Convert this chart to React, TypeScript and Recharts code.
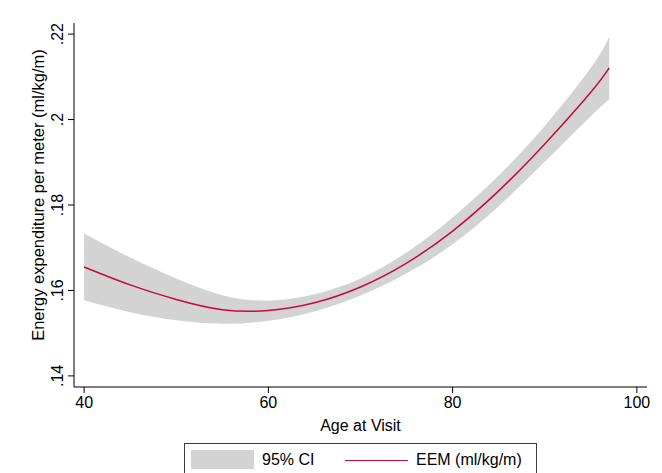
import React from 'react';
import { ComposedChart, Area, Line, XAxis, YAxis, Label } from 'recharts';

const ages = [40, 45, 50, 55, 60, 65, 70, 75, 80, 85, 90, 95, 97];
const eem = [0.1655, 0.1613, 0.1579, 0.1555, 0.1553, 0.1571, 0.1608, 0.1664, 0.1739, 0.1833, 0.1943, 0.2064, 0.2121];
const ciLow = [0.1577, 0.1549, 0.153, 0.1522, 0.1529, 0.1551, 0.1588, 0.164, 0.1708, 0.1797, 0.1901, 0.2008, 0.2047];
const ciHigh = [0.1733, 0.1677, 0.1628, 0.1589, 0.1576, 0.1591, 0.1628, 0.1689, 0.1771, 0.1869, 0.1985, 0.2121, 0.2194];

const xTicks = [40, 60, 80, 100];
const yTicks = [0.14, 0.16, 0.18, 0.2, 0.22];

const FONT = '"Liberation Sans", Arial, Helvetica, sans-serif';
const LINE_COLOR = '#c8093c';
const BAND_COLOR = '#d3d3d3';

const data = ages.map((age, i) => ({ age, eem: eem[i], ci: [ciLow[i], ciHigh[i]] }));

const fmtY = (v: number) => v.toFixed(2).replace(/^0/, '').replace(/0$/, '');

function YTick({ x, y, payload }: any) {
  return (
    <text
      x={x}
      y={y}
      transform={`rotate(-90 ${x} ${y})`}
      textAnchor="middle"
      fontSize={16}
      fontFamily={FONT}
      fill="#000"
    >
      {fmtY(payload.value)}
    </text>
  );
}

function XTick({ x, y, payload }: any) {
  return (
    <text x={x} y={y + 13} textAnchor="middle" fontSize={16} fontFamily={FONT} fill="#000">
      {payload.value}
    </text>
  );
}

export default function App() {
  return (
    <div style={{ position: 'absolute', left: 0, top: 0, width: 662, height: 473, background: '#fff', fontFamily: FONT }}>
      <ComposedChart width={662} height={473} data={data} margin={{ top: 23, right: 15, bottom: 36, left: 0 }}>
        <XAxis
          dataKey="age"
          type="number"
          domain={[38.9, 101.1]}
          ticks={xTicks}
          allowDataOverflow
          height={50}
          tickSize={6}
          tickMargin={2}
          tick={<XTick />}
          stroke="#000"
          tickLine={{ stroke: '#000' }}
        >
          <Label
            content={({ viewBox }: any) => (
              <text
                x={viewBox.x + viewBox.width / 2}
                y={viewBox.y + 44}
                textAnchor="middle"
                fontSize={16}
                fontFamily={FONT}
                fill="#000"
              >
                Age at Visit
              </text>
            )}
          />
        </XAxis>
        <YAxis
          type="number"
          domain={[0.1374, 0.2226]}
          ticks={yTicks}
          allowDataOverflow
          width={74}
          tickSize={6}
          tickMargin={5}
          tick={<YTick />}
          stroke="#000"
          tickLine={{ stroke: '#000' }}
        >
          <Label
            content={({ viewBox }: any) => {
              const cx = 44;
              const cy = viewBox.y + viewBox.height / 2 - 10;
              return (
                <text
                  x={cx}
                  y={cy}
                  transform={`rotate(-90 ${cx} ${cy})`}
                  textAnchor="middle"
                  fontSize={16.5}
                  fontFamily={FONT}
                  fill="#000"
                >
                  Energy expenditure per meter (ml/kg/m)
                </text>
              );
            }}
          />
        </YAxis>
        <Area
          dataKey="ci"
          type="natural"
          fill={BAND_COLOR}
          fillOpacity={1}
          stroke="none"
          isAnimationActive={false}
        />
        <Line
          dataKey="eem"
          type="natural"
          stroke={LINE_COLOR}
          strokeWidth={1.5}
          dot={false}
          isAnimationActive={false}
        />
      </ComposedChart>

      <div
        style={{
          position: 'absolute',
          left: 184,
          top: 443,
          width: 353,
          height: 40,
          border: '1px solid #3c3c3c',
          boxSizing: 'border-box',
          fontSize: 16,
          color: '#000',
        }}
      >
        <div style={{ position: 'absolute', left: 6, top: 6, width: 63, height: 19, background: BAND_COLOR }} />
        <div style={{ position: 'absolute', left: 77, top: 6, lineHeight: '19px' }}>95% CI</div>
        <div style={{ position: 'absolute', left: 160, top: 16, width: 63, height: 0, borderTop: `1.5px solid ${LINE_COLOR}` }} />
        <div style={{ position: 'absolute', left: 231, top: 6, lineHeight: '19px' }}>EEM (ml/kg/m)</div>
      </div>
    </div>
  );
}
